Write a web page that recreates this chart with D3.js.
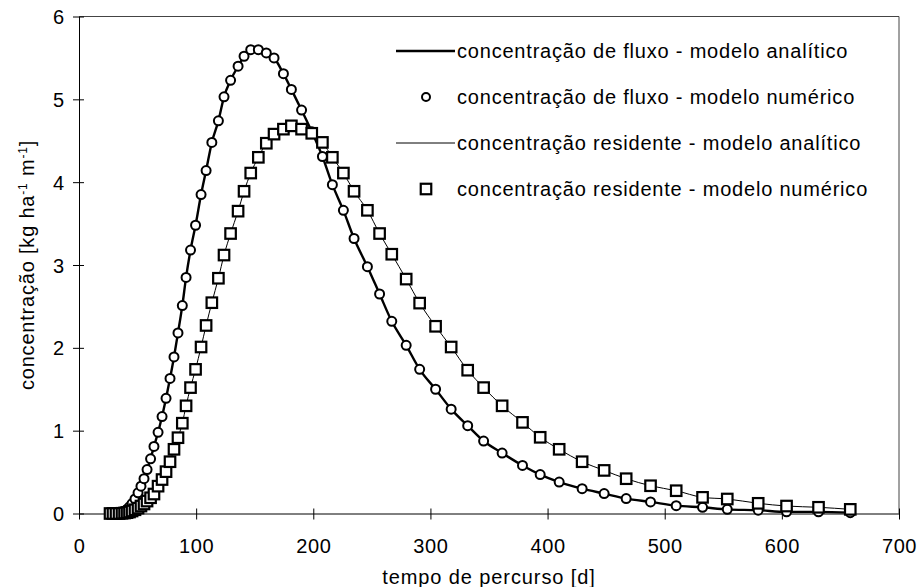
<!DOCTYPE html>
<html>
<head>
<meta charset="utf-8">
<script src="https://cdn.jsdelivr.net/npm/d3@7"></script>
<style>
  body { margin: 0; background: #fff; }
  svg text { font-family: "Liberation Sans", Arial, sans-serif; fill: #000; }
</style>
</head>
<body>
<svg id="graf" width="920" height="587"></svg>
<script>
// Tempo de percurso [d] - mesmos instantes para as duas séries
var tempo = [26.5, 29.0, 31.6, 34.2, 36.7, 38.9, 41.0, 43.1, 45.3, 47.8,
             50.4, 52.9, 55.5, 58.1, 61.1, 64.0, 67.5, 70.9, 74.3, 77.7,
             81.1, 84.5, 88.2, 91.4, 95.2, 99.5, 104.2, 108.5, 113.4, 119.0,
             123.8, 129.4, 135.8, 140.9, 146.6, 153.1, 159.9, 166.5, 174.5, 181.3,
             190.0, 198.7, 207.8, 216.3, 225.7, 234.8, 246.2, 256.6, 267.0, 279.3,
             290.8, 304.4, 317.7, 331.8, 345.4, 361.2, 378.6, 393.7, 409.9, 429.5,
             448.3, 467.1, 487.9, 509.8, 532.3, 553.4, 579.8, 604.0, 631.3, 658.4];

// concentração de fluxo [kg ha-1 m-1]
var fluxo = [0.0, 0.0, 0.005, 0.01, 0.02, 0.03, 0.05, 0.08, 0.12, 0.175,
             0.25, 0.33, 0.42, 0.53, 0.66, 0.81, 0.98, 1.17, 1.39, 1.63,
             1.89, 2.18, 2.51, 2.85, 3.18, 3.48, 3.85, 4.14, 4.48, 4.74,
             5.03, 5.23, 5.40, 5.52, 5.60, 5.60, 5.56, 5.50, 5.31, 5.12,
             4.87, 4.61, 4.31, 3.97, 3.66, 3.32, 2.98, 2.65, 2.32, 2.03,
             1.74, 1.50, 1.26, 1.06, 0.875, 0.73, 0.58, 0.47, 0.38, 0.30,
             0.24, 0.18, 0.14, 0.095, 0.075, 0.05, 0.04, 0.02, 0.02, 0.01];

// concentração residente [kg ha-1 m-1]
var residente = [0.0, 0.0, 0.0, 0.0, 0.003, 0.006, 0.01, 0.018, 0.03, 0.045,
                 0.065, 0.09, 0.115, 0.15, 0.19, 0.235, 0.33, 0.41, 0.505, 0.625,
                 0.775, 0.915, 1.09, 1.30, 1.52, 1.74, 2.01, 2.27, 2.545, 2.84,
                 3.12, 3.38, 3.65, 3.89, 4.11, 4.30, 4.47, 4.58, 4.64, 4.68,
                 4.64, 4.59, 4.48, 4.30, 4.11, 3.89, 3.66, 3.38, 3.13, 2.83,
                 2.54, 2.26, 2.01, 1.73, 1.52, 1.30, 1.10, 0.92, 0.775, 0.625,
                 0.52, 0.42, 0.335, 0.275, 0.195, 0.175, 0.123, 0.09, 0.075, 0.05];

var xTicks = [0, 100, 200, 300, 400, 500, 600, 700];
var yTicks = [0, 1, 2, 3, 4, 5, 6];

var legendaTextos = [
    "concentração de fluxo - modelo analítico",
    "concentração de fluxo - modelo numérico",
    "concentração residente - modelo analítico",
    "concentração residente - modelo numérico"
];

var svg = d3.select("#graf");

// Escalas
var x = d3.scaleLinear().domain([0, 700]).range([79, 899]);
var y = d3.scaleLinear().domain([0, 6]).range([513.5, 16.5]);

// Moldura (topo e direita)
svg.append("path")
    .attr("d", "M" + x(0) + "," + y(6) + "H" + x(700) + "V" + y(0))
    .attr("fill", "none")
    .attr("stroke", "#444")
    .attr("stroke-width", 1);

// Eixo X
var eixoX = svg.append("g")
    .attr("transform", "translate(0," + y(0) + ")")
    .call(d3.axisBottom(x).tickValues(xTicks).tickSizeOuter(0).tickFormat(d3.format("d")));
eixoX.select(".domain").attr("stroke", "#000");
eixoX.selectAll(".tick line").attr("y1", -5).attr("y2", 6).attr("stroke", "#000");
eixoX.selectAll(".tick text")
    .attr("y", 25)
    .style("font-size", "20px")
    .style("letter-spacing", "0.6px");

// Eixo Y
var eixoY = svg.append("g")
    .attr("transform", "translate(" + x(0) + ",0)")
    .call(d3.axisLeft(y).tickValues(yTicks).tickSizeOuter(0).tickFormat(d3.format("d")));
eixoY.select(".domain").attr("stroke", "#000");
eixoY.selectAll(".tick line").attr("x1", -6).attr("x2", 5).attr("stroke", "#000");
eixoY.selectAll(".tick text")
    .attr("x", -15)
    .attr("dy", "0.35em")
    .style("font-size", "20px");

// Títulos dos eixos
svg.append("text")
    .attr("x", 489)
    .attr("y", 584)
    .attr("text-anchor", "middle")
    .style("font-size", "20px")
    .style("letter-spacing", "0.9px")
    .text("tempo de percurso [d]");

var tituloY = svg.append("text")
    .attr("transform", "translate(34," + ((y(0) + y(6)) / 2) + ") rotate(-90)")
    .attr("text-anchor", "middle")
    .style("font-size", "20px")
    .style("letter-spacing", "0.8px");
tituloY.append("tspan").text("concentração [kg ha");
tituloY.append("tspan").attr("baseline-shift", "super").style("font-size", "12px").text("-1");
tituloY.append("tspan").text(" m");
tituloY.append("tspan").attr("baseline-shift", "super").style("font-size", "12px").text("-1");
tituloY.append("tspan").text("]");

// Linhas (modelo analítico)
var linha = function (valores) {
    return d3.line()
        .x(function (d, i) { return x(tempo[i]); })
        .y(function (d) { return y(d); })
        .curve(d3.curveMonotoneX)(valores);
};

svg.append("path")
    .attr("d", linha(residente))
    .attr("fill", "none")
    .attr("stroke", "#000")
    .attr("stroke-width", 1);

svg.append("path")
    .attr("d", linha(fluxo))
    .attr("fill", "none")
    .attr("stroke", "#000")
    .attr("stroke-width", 2.4);

// Marcadores (modelo numérico)
var raio = 4.5;
svg.append("g").selectAll("circle")
    .data(fluxo)
    .enter()
    .append("circle")
    .attr("cx", function (d, i) { return x(tempo[i]); })
    .attr("cy", function (d) { return y(d); })
    .attr("r", raio)
    .attr("fill", "#fff")
    .attr("stroke", "#000")
    .attr("stroke-width", 2);

var lado = 10.5;
svg.append("g").selectAll("rect")
    .data(residente)
    .enter()
    .append("rect")
    .attr("x", function (d, i) { return x(tempo[i]) - lado / 2; })
    .attr("y", function (d) { return y(d) - lado / 2; })
    .attr("width", lado)
    .attr("height", lado)
    .attr("fill", "#fff")
    .attr("stroke", "#000")
    .attr("stroke-width", 2.2);

// Legenda
var legenda = svg.append("g").attr("transform", "translate(396,51)");
var passo = 46;

legendaTextos.forEach(function (t, i) {
    var g = legenda.append("g").attr("transform", "translate(0," + (i * passo) + ")");
    if (i === 0 || i === 2) {
        g.append("line")
            .attr("x1", 0).attr("x2", 59)
            .attr("y1", 0).attr("y2", 0)
            .attr("stroke", "#000")
            .attr("stroke-width", i === 0 ? 2.4 : 1);
    } else if (i === 1) {
        g.append("circle")
            .attr("cx", 30).attr("cy", 0).attr("r", 4)
            .attr("fill", "#fff").attr("stroke", "#000").attr("stroke-width", 2);
    } else {
        g.append("rect")
            .attr("x", 30 - lado / 2).attr("y", -lado / 2)
            .attr("width", lado).attr("height", lado)
            .attr("fill", "#fff").attr("stroke", "#000").attr("stroke-width", 2.2);
    }
    g.append("text")
        .attr("x", 61)
        .attr("y", 7)
        .style("font-size", "20px")
        .style("letter-spacing", "0.8px")
        .text(t);
});
</script>
</body>
</html>
